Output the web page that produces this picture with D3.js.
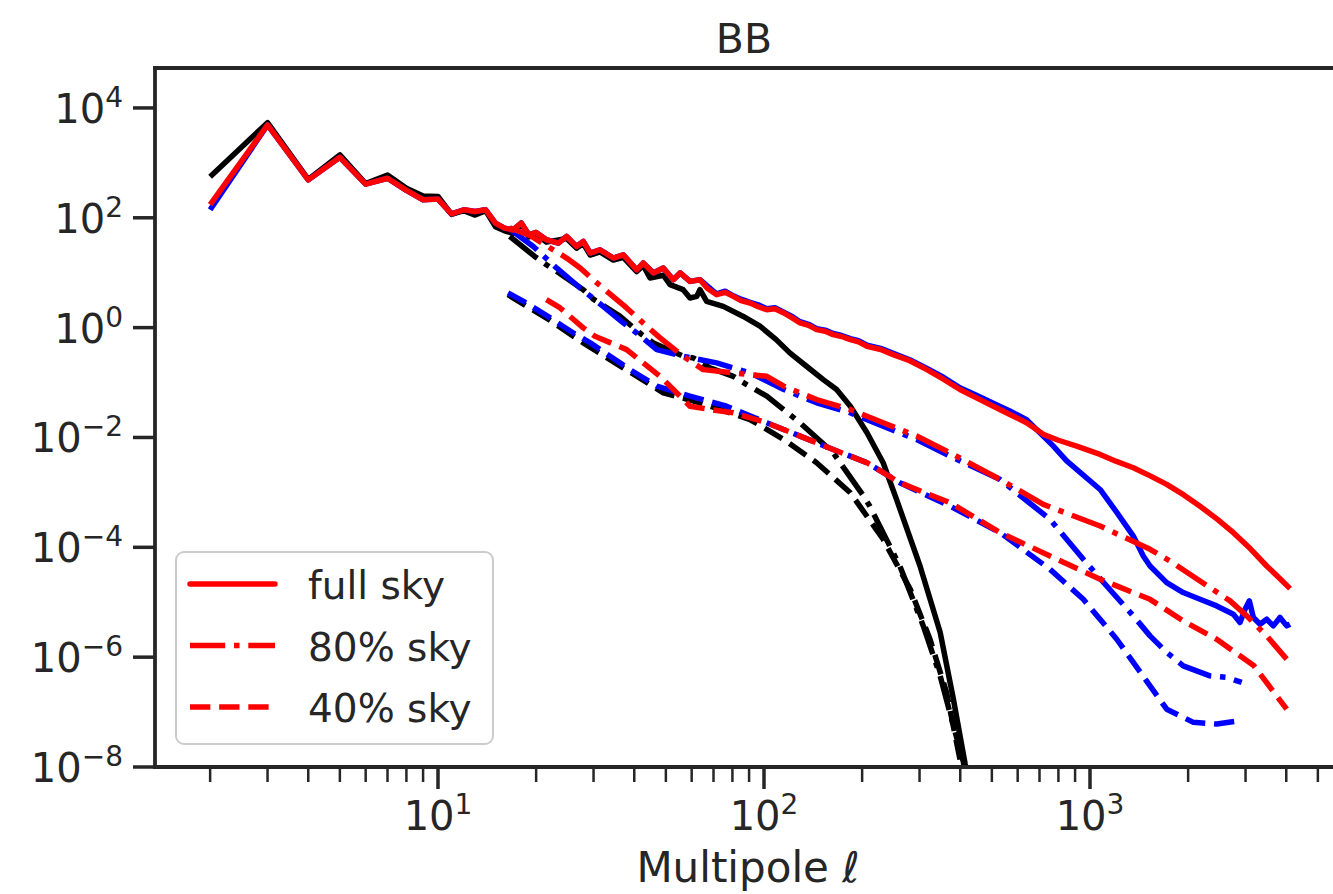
<!DOCTYPE html>
<html>
<head>
<meta charset="utf-8">
<script src="https://cdn.jsdelivr.net/npm/d3@7"></script>
<style>
  body { margin: 0; background: #fff; }
  text { font-family: "DejaVu Sans", sans-serif; fill: #262626; }
</style>
</head>
<body>
<div id="bd"></div>
<script>
// spectra, [ell, C_ell]
var blackSolid = [[2,560],[3,5400],[4,500],[5,1400],[6,420],[7,600],[8,345],[9,250],[10,245],[11,115],[12,135],[13,112],[14,135],[15,69],[16,58],[17,52],[18,80],[19,45],[20,50],
    [21.5,36],[24.8,42],[26.6,28],[27.9,34],[29.3,21],[31.4,24],[34.5,17],[37,19],[40.7,10.5],[42.6,13.5],[44.7,8],[49.1,9],[51.5,6.05],[56.5,4.91],[59.3,3.47],[62.2,3.71],[63.6,4.91],[66.7,3.01],
    [75,2.44],[86.4,1.6],[97.2,1.06],[109,0.605],[120,0.347],[135,0.198],[152,0.113],[167,0.0746],[184,0.0371],[207,0.0122],[232,0.00347],[255,7.46e-4],[301,4.57e-5],[347,2.85e-6],[381,1.72e-7],[414,1.13e-8],[420,8e-9]];
var blackDashdot = [[16.6,45.7],[19.8,19.8],[21.5,14],[23.1,10.6],[27.9,4.91],[29.9,3.33],[36.2,1.6],[42.2,0.746],[45.8,0.527],[56.5,0.301],[60.7,0.281],[68.3,0.185],[80.5,0.13],[88.5,0.092],
    [102,0.0564],[129,0.0185],[163,0.00527],[202,8.57e-4],[211,5.64e-4],[261,4.57e-5],[308,3.71e-6],[347,4.57e-7],[381,5.64e-8],[409,1.23e-8],[412,9e-9]];
var blackDashed = [[16.4,3.98],[22.1,1.35],[27.9,0.527],[40.7,0.13],[49.1,0.065],[63.6,0.0428],[90.6,0.0212],[115,0.0092],[145,0.00347],[184,9.88e-4],[232,1.4e-4],[281,1.72e-5],[323,2.12e-6],[363,2.28e-7],[399,1.4e-8],[403,9e-9]];

var blueSolid = [[2,140],[3,4900],[4,490],[5,1260],[6,410],[7,525],[8,315],[9,213],[10,219],[11,118],[12,140],[13,130],[14,140],[15,80],[16,65],[17,60],[18,80],[19,49],[20,54],
    [21.5,39.8],[23.4,34.7],[24.8,45.7],[26.6,30.1],[27.9,37.1],[29.3,22.8],[31.4,26.2],[34.5,18.5],[37,21.2],[40.7,11.3],[42.6,15],[45.8,9.9],[49.1,12.2],[52.7,7.46],[55.3,9.9],[59.3,6.95],[63.6,7.46],
    [71.6,4.1],[76,4.6],[80.5,3.8],[85,3.3],[90.6,2.9],[96,2.6],[102,2.2],[108,2.3],[115,1.9],[122,1.6],[129,1.28],[137,1.15],[145,0.96],[154,0.9],[163,0.78],[173,0.72],[184,0.63],[195,0.58],[207,0.48],[228,0.42],[249,0.34],[280,0.26],[316,0.18],[355,0.125],[399,0.08],[450,0.058],[505,0.042],[570,0.03],[639,0.021],[702,0.0122],[772,0.00695],[848,0.00375],
    [1074,0.00113],[1208,4.33e-4],[1358,1.6e-4],[1457,6.95e-5],[1528,4.57e-5],[1719,2.28e-5],[1932,1.5e-5],[2175,1.13e-5],[2447,8.57e-6],[2753,6.05e-6],[2885,4.28e-6],[2989,7.46e-6],[3082,1.06e-5],
    [3170,5.27e-6],[3323,3.98e-6],[3483,4.91e-6],[3650,3.71e-6],[3826,5.27e-6],[4012,3.71e-6],[4108,3.98e-6]];
var blueDashdot = [[16.6,65],[17,56.4],[19.6,30.1],[23.1,12.2],[27.3,5.27],[32.1,2.44],[37,1.22],[40.7,0.8],[46.9,0.398],[56.5,0.301],[71.6,0.228],[90.6,0.15],[115,0.0746],[145,0.0428],[184,0.0281],
    [232,0.016],[294,0.0092],[372,0.00457],[530,0.00172],[754,3.23e-4],[954,6.05e-5],[1125,1.98e-5],[1358,5.64e-6],[1528,2.44e-6],[1719,1.22e-6],[1932,6.95e-7],[2333,4.57e-7],[2627,4.28e-7],[2920,3.47e-7]];
var blueDashed = [[16.4,4.28],[18.3,3.01],[22.1,1.5],[26,0.8],[29.3,0.527],[38.8,0.172],[46.9,0.0857],[59.3,0.0564],[76.8,0.0371],[102,0.0185],[129,0.0106],[163,0.00605],[207,0.00347],[261,0.0015],
    [372,5.64e-4],[530,1.85e-4],[754,3.98e-5],[954,1.13e-5],[1208,2.12e-6],[1528,3.01e-7],[1719,1.13e-7],[2075,6.5e-8],[2447,6.05e-8],[2885,6.95e-8]];

var redSolid = [[2,173],[3,4900],[4,490],[5,1260],[6,410],[7,525],[8,315],[9,213],[10,219],[11,118],[12,140],[13,130],[14,140],[15,80],[16,65],[17,60],[18,80],[19,49],[20,54],
    [21.5,39.8],[23.4,34.7],[24.8,45.7],[26.6,30.1],[27.9,37.1],[29.3,22.8],[31.4,26.2],[34.5,18.5],[37,21.2],[40.7,11.3],[42.6,15],[45.8,9.9],[49.1,12.2],[52.7,7.46],[55.3,9.9],[59.3,6.95],[63.6,7.46],
    [67,5.2],[71.6,3.98],[76,4.4],[80.5,3.71],[85,3.1],[90.6,2.81],[96,2.4],[102,2.12],[108,2.2],[115,1.85],[122,1.5],[129,1.22],[137,1.1],[145,0.92],[154,0.86],[163,0.746],[173,0.69],[184,0.605],[195,0.55],[207,0.457],[228,0.4],[249,0.323],[280,0.25],[316,0.172],[355,0.115],[399,0.0746],[450,0.052],[505,0.0371],[570,0.026],[639,0.0185],[719,0.0114],
    [800,0.0089],[910,0.00695],[1074,0.00491],[1200,0.0037],[1358,0.00281],[1530,0.002],[1719,0.0014],[1940,9e-4],[2175,5.6e-4],[2450,3.3e-4],[2753,1.85e-4],[3100,9.5e-5],[3483,4.57e-5],[3800,2.8e-5],[4108,1.77e-5]];
var redDashdot = [[16.6,65.8],[19.2,47.1],[24.8,18.5],[27.3,12.2],[29.9,7.46],[37.9,2.28],[43.7,1.06],[48,0.65],[56.5,0.301],[65.1,0.172],[80.5,0.15],[102,0.13],[115,0.0857],[145,0.0491],[184,0.0323],
    [232,0.0185],[294,0.0106],[372,0.00527],[530,0.00172],[719,6.05e-4],[1074,2.44e-4],[1528,9.2e-5],[1760,5.64e-5],[2175,2.44e-5],[2689,1.06e-5],[3025,5.64e-6],[3483,2.44e-6],[4012,9.2e-7]];
var redDashed = [[21.5,3.23],[23.7,2.28],[27.9,0.99],[30.3,0.695],[37.9,0.398],[48,0.13],[59.3,0.0371],[68.3,0.0323],[80.5,0.0281],[102,0.0185],[129,0.0106],[163,0.00605],[207,0.00347],[261,0.0015],
    [372,6.5e-4],[530,1.85e-4],[754,6.95e-5],[1074,2.62e-5],[1528,1.13e-5],[1932,4.57e-6],[2447,2.12e-6],[3185,6.95e-7],[4012,1.13e-7]];

var xMajor = [10, 100, 1000];
var xMinor = [2,3,4,5,6,7,8,9,20,30,40,50,60,70,80,90,200,300,400,500,600,700,800,900,2000,3000,4000,5000];
var yMajor = [1e-8, 1e-6, 1e-4, 1e-2, 1e0, 1e2, 1e4];
var legendLabels = ["full sky", "80% sky", "40% sky"];

var width = 1333, height = 894;
var margin = {top: 68, left: 155, bottom: 767, right: 1333};
var lw = 5.5;
var dashes = {solid: null, dashdot: (6.4*lw) + "," + (1.6*lw) + "," + lw + "," + (1.6*lw), dashed: (3.7*lw) + "," + (1.6*lw)};
var ink = "#262626";

var svg = d3.select("#bd").append("svg")
    .attr("width", width)
    .attr("height", height);

var x = d3.scaleLog().domain([Math.pow(10, 1 - 283 / 326), Math.pow(10, 3 + 243 / 326)]).range([margin.left, margin.right]);
var y = d3.scaleLog().domain([1e-8, Math.pow(10, 4 + 40 / 55)]).range([margin.bottom, margin.top]);

svg.append("clipPath").attr("id", "clip")
    .append("rect")
    .attr("x", margin.left).attr("y", margin.top)
    .attr("width", margin.right - margin.left).attr("height", margin.bottom - margin.top);

var line = d3.line()
    .x(function (d) { return x(d[0]); })
    .y(function (d) { return y(d[1]); });

var series = [
    {data: blackSolid, color: "black", style: "solid"},
    {data: blackDashdot, color: "black", style: "dashdot"},
    {data: blackDashed, color: "black", style: "dashed"},
    {data: blueSolid, color: "blue", style: "solid"},
    {data: blueDashdot, color: "blue", style: "dashdot"},
    {data: blueDashed, color: "blue", style: "dashed"},
    {data: redSolid, color: "red", style: "solid"},
    {data: redDashdot, color: "red", style: "dashdot"},
    {data: redDashed, color: "red", style: "dashed"}
];

svg.append("g")
    .attr("clip-path", "url(#clip)")
    .selectAll("path")
    .data(series)
    .enter().append("path")
    .attr("d", function (d) { return line(d.data); })
    .attr("fill", "none")
    .attr("stroke", function (d) { return d.color; })
    .attr("stroke-width", lw)
    .attr("stroke-linejoin", "round")
    .attr("stroke-dasharray", function (d) { return dashes[d.style]; });

// spines (right one falls outside the crop)
var spines = svg.append("g").attr("stroke", ink).attr("stroke-width", 3.8).attr("stroke-linecap", "square");
spines.append("line").attr("x1", margin.left).attr("x2", margin.left).attr("y1", margin.top).attr("y2", margin.bottom);
spines.append("line").attr("x1", margin.left).attr("x2", margin.right).attr("y1", margin.top).attr("y2", margin.top);
spines.append("line").attr("x1", margin.left).attr("x2", margin.right).attr("y1", margin.bottom).attr("y2", margin.bottom);

// x ticks
svg.append("g").selectAll("line").data(xMinor).enter().append("line")
    .attr("x1", function (d) { return x(d); }).attr("x2", function (d) { return x(d); })
    .attr("y1", margin.bottom).attr("y2", margin.bottom + 15)
    .attr("stroke", ink).attr("stroke-width", 2.5);
svg.append("g").selectAll("line").data(xMajor).enter().append("line")
    .attr("x1", function (d) { return x(d); }).attr("x2", function (d) { return x(d); })
    .attr("y1", margin.bottom).attr("y2", margin.bottom + 22)
    .attr("stroke", ink).attr("stroke-width", 3.5);

function powLabel(sel, v) {
    var e = Math.round(Math.log10(v));
    sel.append("tspan").attr("font-size", 40).text("10");
    sel.append("tspan").attr("font-size", 28).attr("dy", -16).text(e < 0 ? "\u2212" + (-e) : String(e));
}

svg.append("g").selectAll("text").data(xMajor).enter().append("text")
    .attr("x", function (d) { return x(d); })
    .attr("y", 830)
    .attr("text-anchor", "middle")
    .each(function (d) { powLabel(d3.select(this), d); });

// y ticks
svg.append("g").selectAll("line").data(yMajor).enter().append("line")
    .attr("x1", margin.left - 22).attr("x2", margin.left)
    .attr("y1", function (d) { return y(d); }).attr("y2", function (d) { return y(d); })
    .attr("stroke", ink).attr("stroke-width", 3.5);

svg.append("g").selectAll("text").data(yMajor).enter().append("text")
    .attr("x", 123)
    .attr("y", function (d) { return y(d) + 15; })
    .attr("text-anchor", "end")
    .each(function (d) { powLabel(d3.select(this), d); });

// labels
svg.append("text").attr("x", (margin.left + margin.right) / 2).attr("y", 53)
    .attr("text-anchor", "middle").attr("font-size", 41).text("BB");

var xl = svg.append("text").attr("x", (margin.left + margin.right) / 2 + 4).attr("y", 882)
    .attr("text-anchor", "middle").attr("font-size", 42);
xl.append("tspan").text("Multipole ");
xl.append("tspan").attr("font-style", "italic").text("\u2113");

// legend
var lg = svg.append("g");
lg.append("rect")
    .attr("x", 176).attr("y", 552).attr("width", 317).attr("height", 192)
    .attr("rx", 8)
    .attr("fill", "white").attr("fill-opacity", 0.8)
    .attr("stroke", "#cccccc").attr("stroke-width", 2);
var styles = ["solid", "dashdot", "dashed"];
legendLabels.forEach(function (lab, i) {
    var yy = 584 + i * 61.5;
    lg.append("line")
        .attr("x1", 190).attr("x2", 275).attr("y1", yy).attr("y2", yy)
        .attr("stroke", "red").attr("stroke-width", lw)
        .attr("stroke-linecap", i === 0 ? "round" : "butt")
        .attr("stroke-dasharray", dashes[styles[i]]);
    lg.append("text")
        .attr("x", 308).attr("y", yy + 15)
        .attr("font-size", 39)
        .text(lab);
});
</script>
</body>
</html>
